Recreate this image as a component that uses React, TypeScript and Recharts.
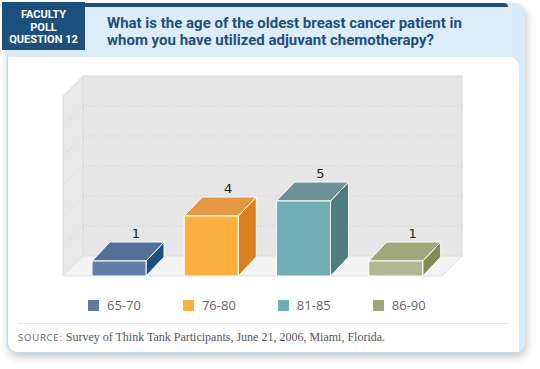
import { BarChart, Bar, XAxis, YAxis, ReferenceArea, LabelList } from 'recharts';

const categories = ['65-70', '76-80', '81-85', '86-90'];
const counts = [1, 4, 5, 1];
const gridTicks = [2, 4, 6, 8, 10];
const yMax = 12;

const frontColors = ['#647fa7', '#fbb040', '#71adb5', '#b0b893'];
const topColors = ['#53709a', '#e59842', '#6a9297', '#a0a77a'];
const sideColors = ['#19507f', '#dc7f1e', '#4d7d80', '#808b55'];
const legendColors = ['#5f7ba5', '#fbb040', '#72aeb6', '#9ea77a'];

const data = categories.map((name, i) => ({ name, value: counts[i] }));

const PAD_LEFT = 10;
const WALL_DX = 20;
const WALL_DY = 20;
const BAR_DX = 18;
const BAR_DY = 19;

// back wall, left wall, floor and dotted grid, drawn from the plot rect
function Walls(props: any) {
  const { y, width: w0, height } = props;
  const x = props.x - PAD_LEFT;
  const width = w0 + PAD_LEFT;
  const bottom = y + height;
  const right = x + width;
  const toPx = (t: number) => y + height * (1 - t / yMax);
  return (
    <g>
      <rect x={x + WALL_DX} y={y - WALL_DY} width={width} height={height} fill="#e6e6e6" stroke="#dadada" />
      <polygon
        points={`${x},${y} ${x + WALL_DX},${y - WALL_DY} ${x + WALL_DX},${bottom - WALL_DY} ${x},${bottom}`}
        fill="#e9e9e9"
        stroke="#dadada"
      />
      <polygon
        points={`${x},${bottom} ${x + WALL_DX},${bottom - WALL_DY} ${right + WALL_DX},${bottom - WALL_DY} ${right},${bottom}`}
        fill="#f3f3f3"
        stroke="#e0e0e0"
      />
      {gridTicks.map((t) => {
        const py = toPx(t);
        return (
          <g key={t}>
            <line x1={x + WALL_DX} y1={py - WALL_DY} x2={right + WALL_DX} y2={py - WALL_DY} stroke="#cdcdcd" strokeDasharray="1 2" />
            <line x1={x} y1={py} x2={x + WALL_DX} y2={py - WALL_DY} stroke="#cdcdcd" strokeDasharray="1 2" />
          </g>
        );
      })}
    </g>
  );
}

function Box3D(props: any) {
  const { x, y, width: w, height: h, index } = props;
  return (
    <g>
      <polygon
        points={`${x + w},${y} ${x + w + BAR_DX},${y - BAR_DY} ${x + w + BAR_DX},${y + h - BAR_DY} ${x + w},${y + h}`}
        fill={sideColors[index]}
        stroke="#ffffff"
        strokeWidth={1}
      />
      <polygon
        points={`${x},${y} ${x + BAR_DX},${y - BAR_DY} ${x + w + BAR_DX},${y - BAR_DY} ${x + w},${y}`}
        fill={topColors[index]}
        stroke="#ffffff"
        strokeWidth={1}
      />
      <rect x={x} y={y} width={w} height={h} fill={frontColors[index]} stroke="#ffffff" strokeWidth={1} />
    </g>
  );
}

function ValueLabel(props: any) {
  const { x, y, width, value } = props;
  return (
    <text
      x={x + width / 2 + 17}
      y={y - 23}
      textAnchor="middle"
      fontFamily="DejaVu Sans"
      fontSize={13}
      fill="#222"
    >
      {value}
    </text>
  );
}

export default function App() {
  return (
    <div style={{ position: 'absolute', left: 0, top: 0, width: 540, height: 369, background: '#fff', overflow: 'hidden' }}>
      {/* card */}
      <div
        style={{
          position: 'absolute', left: 6, top: 3, width: 519, height: 350,
          background: '#d9ebf8', borderRadius: 10,
          boxShadow: '2px 4px 8px rgba(0,0,0,0.22)',
        }}
      />
      <div style={{ position: 'absolute', left: 85, top: 3, width: 423, height: 4, background: '#1d4f7c', borderTopRightRadius: 4 }} />
      <div style={{ position: 'absolute', left: 85, top: 7, width: 434, height: 50, background: '#dcedf9' }} />
      <div
        style={{
          position: 'absolute', left: 7, top: 57, width: 512, height: 296,
          background: '#fff', borderTopRightRadius: 10, borderBottomLeftRadius: 10,
          borderLeft: '1px solid #c9d3db', borderBottom: '1px solid #c9d9e6',
          boxSizing: 'border-box',
        }}
      />
      {/* navy tab */}
      <div
        style={{
          position: 'absolute', left: 2, top: 2, width: 83, height: 48, background: '#1d4f7c',
          color: '#fff', fontFamily: 'Roboto', fontWeight: 700, fontSize: 11, lineHeight: '12.5px',
          textAlign: 'center', paddingTop: 7, boxSizing: 'border-box',
        }}
      >
        FACULTY<br />POLL<br />QUESTION 12
      </div>
      <div
        style={{
          position: 'absolute', left: 107, top: 15, width: 420,
          color: '#1f4e79', fontFamily: 'Roboto', fontWeight: 700, fontSize: 15, lineHeight: '17px',
        }}
      >
        What is the age of the oldest breast cancer patient in<br />whom you have utilized adjuvant chemotherapy?
      </div>

      <div style={{ position: 'absolute', left: 0, top: 0 }}>
        <BarChart width={540} height={369} data={data} margin={{ top: 96, right: 98, bottom: 93, left: 63 + PAD_LEFT }}>
          <XAxis dataKey="name" hide />
          <YAxis hide domain={[0, yMax]} />
          <ReferenceArea y1={0} y2={yMax} shape={<Walls />} ifOverflow="visible" />
          <Bar dataKey="value" barSize={54} shape={<Box3D />} isAnimationActive={false}>
            <LabelList dataKey="value" content={<ValueLabel />} />
          </Bar>
        </BarChart>
      </div>

      {/* legend */}
      <div
        style={{
          position: 'absolute', left: 88, top: 296, display: 'flex', gap: 42, alignItems: 'center',
          fontFamily: 'Open Sans', fontSize: 13, color: '#666',
        }}
      >
        {categories.map((c, i) => (
          <div key={c} style={{ display: 'flex', alignItems: 'center', gap: 8 }}>
            <span style={{ display: 'inline-block', width: 11, height: 11, background: legendColors[i] }} />
            <span>{c}</span>
          </div>
        ))}
      </div>
      <div style={{ position: 'absolute', left: 18, top: 323, width: 490, height: 1, background: '#e6e6e6' }} />
      <div
        style={{
          position: 'absolute', left: 18, top: 330, whiteSpace: 'nowrap',
          fontFamily: 'Liberation Serif', fontSize: 12, color: '#555',
        }}
      >
        <span style={{ fontFamily: 'Open Sans', fontSize: 9.5, letterSpacing: 0.8, color: '#666' }}>SOURCE:</span>{' '}
        Survey of Think Tank Participants, June 21, 2006, Miami, Florida.
      </div>
    </div>
  );
}
